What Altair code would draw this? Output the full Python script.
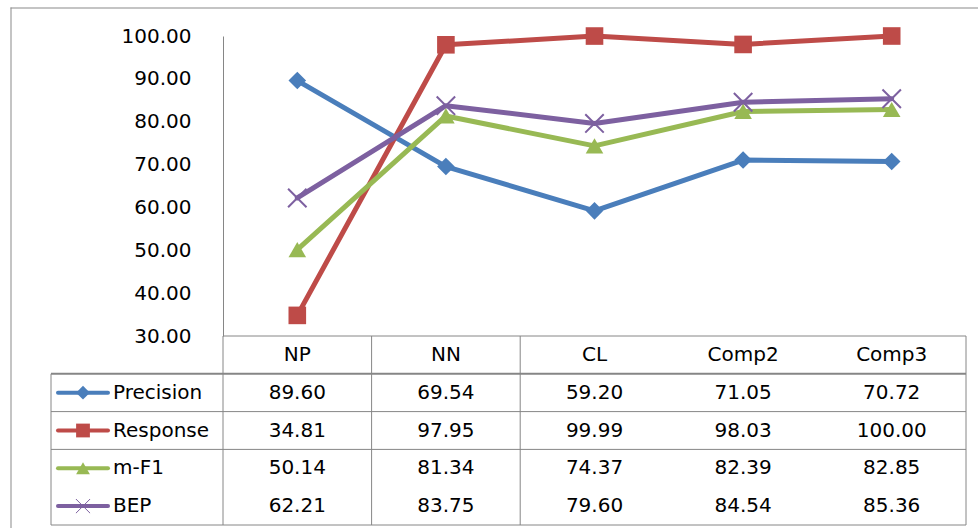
import altair as alt
import pandas as pd

# ---------------- data ----------------
categories = ["NP", "NN", "CL", "Comp2", "Comp3"]
series = ["Precision", "Response", "m-F1", "BEP"]
precision = [89.60, 69.54, 59.20, 71.05, 70.72]
response = [34.81, 97.95, 99.99, 98.03, 100.00]
mf1 = [50.14, 81.34, 74.37, 82.39, 82.85]
bep = [62.21, 83.75, 79.60, 84.54, 85.36]
y_ticks = [30, 40, 50, 60, 70, 80, 90, 100]

colors = ["#4A7EBB", "#BE4B48", "#98B954", "#7D60A0"]
filled_shapes = ["diamond", "square", "triangle-up"]
X_PATH = "M-1,-1L1,1M-1,1L1,-1"

FONT = "DejaVu Sans"
FS = 20
GRID = "#868686"
FRAME = "#8A8A8A"
W_LEFT, W_PLOT, H_PLOT, H_TAB = 172, 743, 300, 189

series_values = [precision, response, mf1, bep]
records = []
for i, (s, vals) in enumerate(zip(series, series_values)):
    for c, v in zip(categories, vals):
        records.append({"series": s, "cat": c, "value": v, "row": i + 1})
df = pd.DataFrame(records)
ser_df = pd.DataFrame({"series": series, "row": list(range(1, len(series) + 1))})
hdr_df = pd.DataFrame({"cat": categories, "row": [0] * len(categories)})
one = pd.DataFrame({"k": [0]})

color_enc = alt.Color("series:N", scale=alt.Scale(domain=series, range=colors), legend=None)
shape_enc = alt.Shape("series:N", scale=alt.Scale(domain=series[:3], range=filled_shapes), legend=None)
y_scale = alt.Scale(domain=[30, 100], nice=False, zero=False)

# ---------------- y-axis label column + outer frame (top and left edges) ----------------
axis_labels = alt.Chart(pd.DataFrame({"v": y_ticks})).mark_point(opacity=0).encode(
    y=alt.Y("v:Q", scale=y_scale,
            axis=alt.Axis(values=y_ticks, format=".2f", labelAlign="right", labelPadding=-140,
                          ticks=False, domain=False, grid=False, title=None,
                          labelFontSize=FS, labelFont=FONT, labelColor="#000000",
                          labelOverlap=False))
)
frame_top = alt.Chart(one).mark_rect(color=FRAME).encode(
    x=alt.value(-40.5), x2=alt.value(927), y=alt.value(-28.5), y2=alt.value(-27.5))
frame_left = alt.Chart(one).mark_rect(color=FRAME).encode(
    x=alt.value(-40.5), x2=alt.value(-39.5), y=alt.value(-28.5), y2=alt.value(500))
axis_col = alt.layer(axis_labels, frame_top, frame_left).properties(width=W_LEFT, height=H_PLOT)

# ---------------- line chart ----------------
x_pt = alt.X("cat:N", sort=categories, scale=alt.Scale(type="point", domain=categories, padding=0.5), axis=None)
y_val = alt.Y("value:Q", scale=y_scale,
              axis=alt.Axis(labels=False, ticks=False, grid=False, domain=True,
                            domainColor=GRID, domainWidth=1, title=None))
base = alt.Chart(df)
lines = base.mark_line(strokeWidth=5, strokeCap="round", strokeJoin="round").encode(
    x=x_pt, y=y_val, color=color_enc)
pts = base.transform_filter(alt.datum.series != "BEP").mark_point(
    filled=True, opacity=1, size=310).encode(x=x_pt, y=y_val, color=color_enc, shape=shape_enc)
xpts = base.transform_filter(alt.datum.series == "BEP").mark_point(
    filled=False, opacity=1, size=340, shape=X_PATH, strokeWidth=2).encode(
    x=x_pt, y=y_val, color=color_enc)
line_chart = alt.layer(lines, pts, xpts).properties(width=W_PLOT, height=H_PLOT)

# ---------------- table: legend column ----------------
y_tab = alt.Scale(domain=[0, len(series) + 1], reverse=True, nice=False, zero=False)
nrows = len(series) + 1

def hrules(rows, width=1):
    return alt.Chart(pd.DataFrame({"r": rows})).mark_rule(color=GRID, strokeWidth=width).encode(
        y=alt.Y("r:Q", scale=y_tab, axis=None))

leg_h = hrules([2, 3, nrows])
leg_h1 = hrules([1], 2)
leg_v = alt.Chart(pd.DataFrame({"r": [1], "r2": [nrows]})).mark_rule(color=GRID, strokeWidth=1).encode(
    x=alt.value(0), y=alt.Y("r:Q", scale=y_tab, axis=None), y2="r2:Q")
ser_base = alt.Chart(ser_df).transform_calculate(yc="datum.row + 0.5")
key_line = ser_base.mark_rule(strokeWidth=4, strokeCap="round").encode(
    x=alt.value(7), x2=alt.value(57), y=alt.Y("yc:Q", scale=y_tab, axis=None), color=color_enc)
key_pts = ser_base.transform_filter(alt.datum.series != "BEP").mark_point(
    filled=True, opacity=1, size=190).encode(
    x=alt.value(32), y=alt.Y("yc:Q", scale=y_tab, axis=None), color=color_enc, shape=shape_enc)
key_x = ser_base.transform_filter(alt.datum.series == "BEP").mark_point(
    filled=False, opacity=1, size=200, shape=X_PATH, strokeWidth=1).encode(
    x=alt.value(32), y=alt.Y("yc:Q", scale=y_tab, axis=None), color=color_enc)
key_txt = ser_base.mark_text(align="left", font=FONT, fontSize=FS, color="#000000").encode(
    x=alt.value(62), y=alt.Y("yc:Q", scale=y_tab, axis=None), text="series:N")
legend_col = alt.layer(leg_h, leg_h1, leg_v, key_line, key_pts, key_x, key_txt).properties(
    width=W_LEFT, height=H_TAB)

# ---------------- table: values ----------------
x_band = alt.Scale(type="band", domain=categories, paddingInner=0, paddingOuter=0)
tab_h = hrules([0, 2, 3, nrows])
tab_h1 = hrules([1], 2)
vstart = alt.Chart(pd.DataFrame({"cat": categories[:3]})).mark_rule(color=GRID, strokeWidth=1).encode(
    x=alt.X("cat:N", scale=x_band, axis=None, bandPosition=0))
vend = alt.Chart(pd.DataFrame({"cat": categories[-1:]})).mark_rule(color=GRID, strokeWidth=1).encode(
    x=alt.X("cat:N", scale=x_band, axis=None, bandPosition=1))
hdr_txt = alt.Chart(hdr_df).transform_calculate(yc="datum.row + 0.5").mark_text(
    font=FONT, fontSize=FS, color="#000000").encode(
    x=alt.X("cat:N", scale=x_band, axis=None), y=alt.Y("yc:Q", scale=y_tab, axis=None), text="cat:N")
val_txt = alt.Chart(df).transform_calculate(yc="datum.row + 0.5").mark_text(
    font=FONT, fontSize=FS, color="#000000").encode(
    x=alt.X("cat:N", scale=x_band, axis=None), y=alt.Y("yc:Q", scale=y_tab, axis=None),
    text=alt.Text("value:Q", format=".2f"))
table = alt.layer(tab_h, tab_h1, vstart, vend, hdr_txt, val_txt).properties(width=W_PLOT, height=H_TAB)

chart = alt.concat(axis_col, line_chart, legend_col, table, columns=2, spacing=0, bounds="flush").properties(
    padding={"left": 10, "top": 7, "right": 0, "bottom": 0}
).configure_view(stroke="transparent", strokeWidth=0)

chart.save("out.html", embed_options={"renderer": "svg", "actions": False})
